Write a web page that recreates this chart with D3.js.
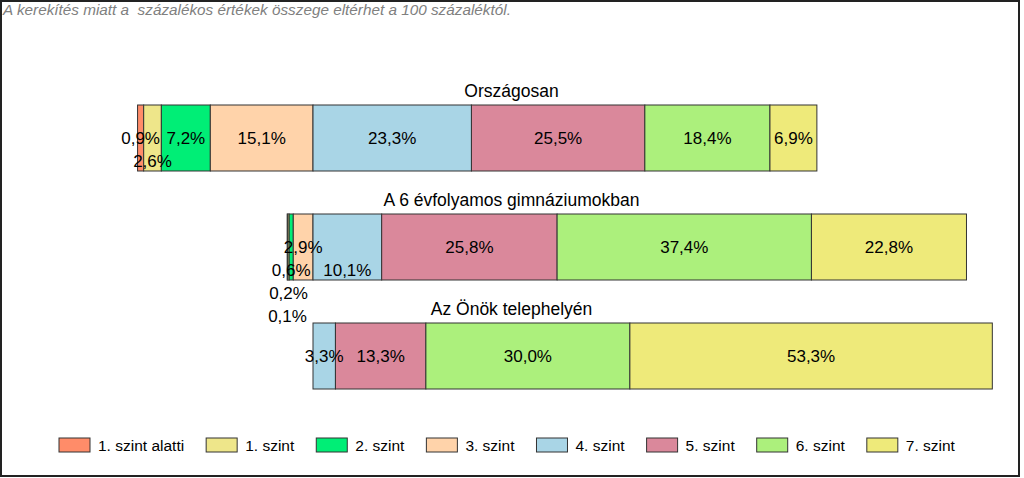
<!DOCTYPE html>
<html>
<head>
<meta charset="utf-8">
<script src="https://cdn.jsdelivr.net/npm/d3@7"></script>
<style>
  html, body { margin: 0; padding: 0; background: #fff; }
  svg { display: block; }
</style>
</head>
<body>
<svg id="chart" width="1024" height="478"></svg>
<script>
// ---- data ----
const categories = ["Országosan", "A 6 évfolyamos gimnáziumokban", "Az Önök telephelyén"];
const levels = ["1. szint alatti", "1. szint", "2. szint", "3. szint", "4. szint", "5. szint", "6. szint", "7. szint"];
const orszagosan = [0.9, 2.6, 7.2, 15.1, 23.3, 25.5, 18.4, 6.9];
const gimnazium = [0.1, 0.2, 0.6, 2.9, 10.1, 25.8, 37.4, 22.8];
const telephely = [0, 0, 0, 0, 3.3, 13.3, 30.0, 53.3];
const colors = ["#FF8C69", "#EEE68A", "#00EE76", "#FFD3AA", "#A9D5E6", "#DA889B", "#ACF07C", "#EEEA7A"];
const note = "A kerekítés miatt a  százalékos értékek összege eltérhet a 100 százaléktól.";
const negativeCount = 4; // levels below the split (1. szint alatti .. 3. szint)

const seriesByCat = [orszagosan, gimnazium, telephely];

const svg = d3.select("#chart");
const W = 1024, H = 478;
const FONT = "'Liberation Sans', Arial, sans-serif";

// frame
svg.append("rect").attr("x", 1).attr("y", 1).attr("width", W - 6).attr("height", H - 3)
  .attr("fill", "#fff").attr("stroke", "#222").attr("stroke-width", 2);

// note
svg.append("text").attr("x", 3).attr("y", 15)
  .attr("font-family", "'Liberation Sans Narrow', 'Liberation Sans', Arial, sans-serif")
  .attr("font-style", "italic").attr("font-size", 15.3).attr("fill", "#808080")
  .style("white-space", "pre").text(note);

// scales
const x = d3.scaleLinear().domain([0, 100]).range([313, 993]);
const y = d3.scaleBand().domain(categories).range([105, 389]).paddingInner(0.3945).paddingOuter(0);

categories.forEach((cat, ci) => {
  const vals = seriesByCat[ci];
  const leftSum = d3.sum(vals.slice(0, negativeCount));
  let acc = -leftSum;
  const segs = vals.map((v, i) => {
    const s = { i, v, x0: acc, x1: acc + v };
    acc += v;
    return s;
  });
  const g = svg.append("g");
  const top = y(cat), bh = y.bandwidth();

  g.append("text").attr("x", 511.5).attr("y", top - 8)
    .attr("text-anchor", "middle").attr("font-family", FONT).attr("font-size", 17.5)
    .attr("fill", "#000").text(cat);

  g.selectAll("rect").data(segs.filter(d => d.v > 0)).join("rect")
    .attr("x", d => x(d.x0)).attr("y", top)
    .attr("width", d => x(d.x1) - x(d.x0)).attr("height", bh)
    .attr("fill", d => colors[d.i]).attr("stroke", "#333").attr("stroke-width", 1);

  // labels with simple collision avoidance (rows downward)
  const order = [];
  for (let i = negativeCount - 1; i >= 0; i--) order.push(i);
  for (let i = negativeCount; i < vals.length; i++) order.push(i);
  const placed = [];
  const pad = 4, rowStep = 23;
  order.forEach(i => {
    const s = segs[i];
    if (!(s.v > 0)) return;
    const cx = x((s.x0 + s.x1) / 2);
    const t = g.append("text").attr("x", cx).attr("text-anchor", "middle")
      .attr("font-family", FONT).attr("font-size", 17).attr("fill", "#000")
      .attr("dy", "0.35em").text(d3.format(".1f")(s.v).replace(".", ",") + "%");
    const w = t.node().getComputedTextLength();
    const l = cx - w / 2, r = cx + w / 2;
    let row = 0;
    while (placed.some(p => p.row === row && l < p.r + pad && r > p.l - pad)) row++;
    placed.push({ l, r, row });
    t.attr("y", top + bh / 2 + row * rowStep);
  });
});

// legend
const lg = svg.append("g");
let lx = 59;
levels.forEach((name, i) => {
  lg.append("rect").attr("x", lx).attr("y", 438).attr("width", 31).attr("height", 14)
    .attr("fill", colors[i]).attr("stroke", "#333").attr("stroke-width", 1);
  const t = lg.append("text").attr("x", lx + 39).attr("y", 451)
    .attr("font-family", FONT).attr("font-size", 15.5).attr("fill", "#000").text(name);
  lx += 39 + t.node().getComputedTextLength() + 22;
});
</script>
</body>
</html>
